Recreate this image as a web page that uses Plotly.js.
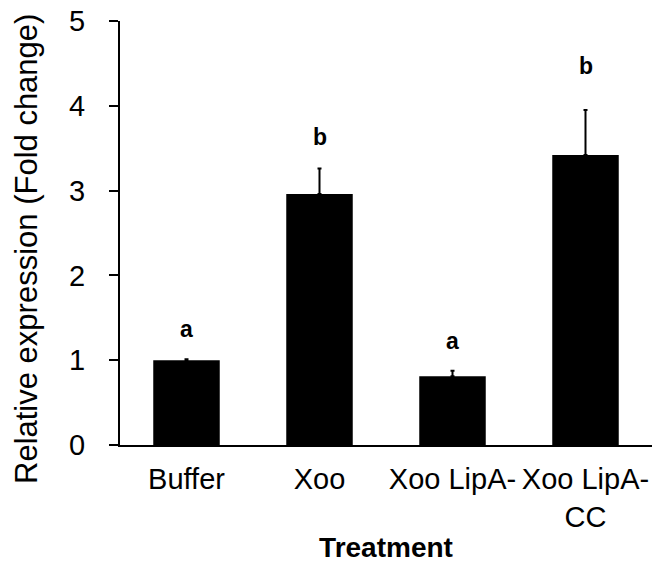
<!DOCTYPE html>
<html>
<head>
<meta charset="utf-8">
<script src="https://cdn.plot.ly/plotly-3.0.1.min.js"></script>
<style>html,body{margin:0;padding:0;background:#fff;}#chart{width:666px;height:564px;}</style>
</head>
<body>
<div id="chart"></div>
<script>
var categories = ["Buffer", "Xoo", "Xoo LipA-", "Xoo LipA-<br>CC"];
var means = [1.00, 2.96, 0.81, 3.42];
var errors = [0.01, 0.30, 0.065, 0.53];
var letters = ["a", "b", "a", "b"];
var yTicks = [0, 1, 2, 3, 4, 5];

var letterShift = [30, 32, 30, 44];
var FONT = "Arial, 'Liberation Sans', sans-serif";

var trace = {
  type: "bar",
  x: categories,
  y: means,
  marker: {color: "#000000", line: {width: 0}},
  width: 0.5,
  error_y: {
    type: "data",
    symmetric: false,
    array: errors,
    arrayminus: errors.map(function(){return 0;}),
    color: "#000000",
    thickness: 2,
    width: 2
  },
  hoverinfo: "none"
};

var annotations = categories.map(function(c, i){
  return {
    x: c, y: means[i] + errors[i], xref: "x", yref: "y",
    text: "<b>" + letters[i] + "</b>",
    showarrow: false, yanchor: "middle", yshift: letterShift[i],
    font: {family: FONT, size: 23, color: "#000"}
  };
});
annotations.push({
  xref: "paper", yref: "paper", x: 0, y: 0.5,
  xanchor: "center", yanchor: "middle",
  xshift: -94, yshift: -16,
  textangle: -90, showarrow: false,
  text: "Relative expression (Fold change)",
  font: {family: FONT, size: 31, color: "#000"}
});

var layout = {
  width: 666, height: 564,
  margin: {l: 120, r: 14, t: 21, b: 119},
  paper_bgcolor: "#fff", plot_bgcolor: "#fff",
  showlegend: false,
  bargap: 0.5,
  font: {family: FONT, color: "#000"},
  xaxis: {
    type: "category",
    range: [-0.5, 3.5],
    showline: true, linecolor: "#000", linewidth: 2,
    ticks: "", showgrid: false, zeroline: false,
    tickangle: 0,
    tickfont: {family: FONT, size: 29, color: "#000"},
    ticklabelstandoff: 7,
    title: {text: "<b>Treatment</b>", font: {family: FONT, size: 28, color: "#000"}, standoff: 6}
  },
  yaxis: {
    range: [0, 5],
    tickvals: yTicks,
    ticktext: yTicks.map(String),
    showline: true, linecolor: "#000", linewidth: 2,
    ticks: "outside", ticklen: 9, tickwidth: 2, tickcolor: "#000",
    showgrid: false, zeroline: false,
    tickfont: {family: FONT, size: 29, color: "#000"},
    ticklabelstandoff: 18
  },
  annotations: annotations
};

Plotly.newPlot("chart", [trace], layout, {displayModeBar: false, staticPlot: true});
</script>
</body>
</html>
